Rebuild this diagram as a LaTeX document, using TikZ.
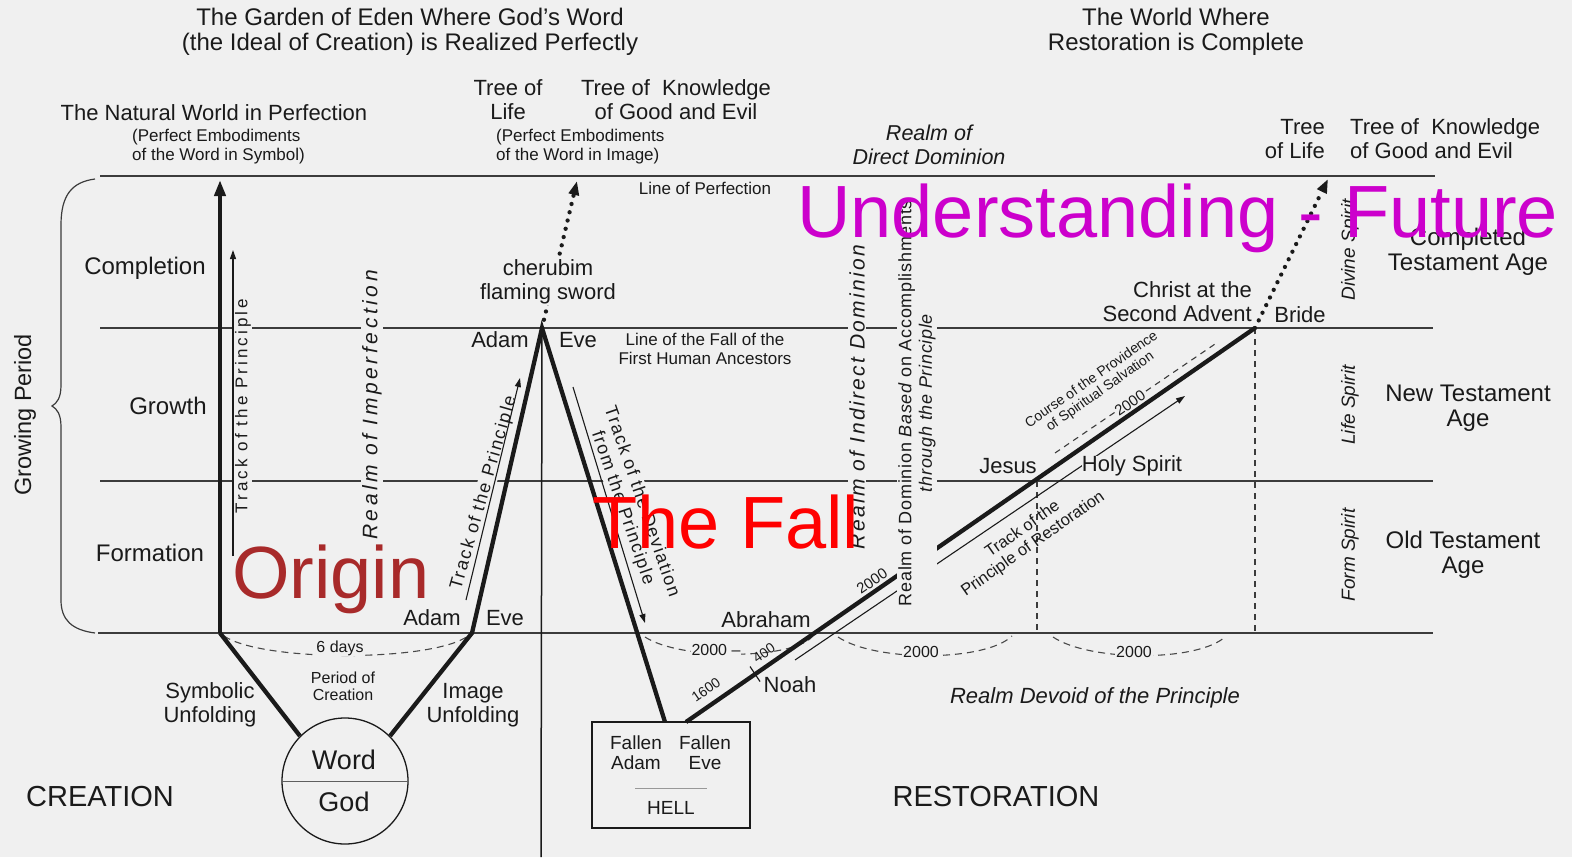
\documentclass[tikz,border=0pt]{standalone}
\usepackage{fontspec}
\setmainfont{Liberation Sans}
\usetikzlibrary{arrows.meta}
\definecolor{bg}{HTML}{F0F0F0}
\definecolor{ink}{HTML}{1A1A1A}
\definecolor{originred}{HTML}{A82A2A}
\definecolor{fallred}{HTML}{FF0000}
\definecolor{futuremag}{HTML}{CC00CC}
\newcommand\fsz[2]{\fontsize{#1}{#2}\selectfont}
\newcommand\lsp[1]{\addfontfeature{LetterSpace=#1}}
\begin{document}
\begin{tikzpicture}[x=1pt,y=-1pt,
  lab/.style={font=\fsz{22}{24}, text=ink, inner sep=1pt, align=center},
  labbig/.style={font=\fsz{24}{25.5}, text=ink, inner sep=1pt, align=center},
  labsm/.style={font=\fsz{17}{19}, text=ink, inner sep=1pt, align=center},
  labxs/.style={font=\fsz{15}{16}, text=ink, inner sep=1pt, align=center},
  mask/.style={fill=bg},
  level/.style={line width=2.4pt, draw=ink!85},
  heavy/.style={line width=4.3pt, draw=ink},
  thinarrow/.style={line width=1.1pt, draw=ink, -{Triangle[length=9pt,width=6pt]}},
  dasharc/.style={line width=1.1pt, draw=ink!80, dash pattern=on 7pt off 5pt},
  vdash/.style={line width=1.3pt, draw=ink!85, dash pattern=on 6pt off 5pt},
  dotline/.style={line width=4.3pt, draw=ink, dash pattern=on 0pt off 8.5pt, line cap=round},
  bigword/.style={font=\fsz{74}{80}, inner sep=0pt, anchor=base west}
]
\fill[bg] (0,0) rectangle (1572,857);
\useasboundingbox (0,0) rectangle (1572,857);

% ---------- coordinates
\coordinate (pL) at (100,176); \coordinate (pR) at (1435,176);
\coordinate (gL) at (100,328); \coordinate (gR) at (1433,328);
\coordinate (fL) at (100,481); \coordinate (fR) at (1433,481);
\coordinate (bL) at (98,633);  \coordinate (bR) at (1433,633);
\coordinate (sym0) at (220,633); \coordinate (symtop) at (220,180);
\coordinate (img0) at (472,633);
\coordinate (apex) at (542,328);
\coordinate (treeA) at (577,181);
\coordinate (vbot) at (541,857);
\coordinate (advent) at (1255,328);
\coordinate (treeB) at (1328,179);
\coordinate (jesus) at (1037,481);
\coordinate (jesusB) at (1037,633);
\coordinate (adventB) at (1255,633);

% ---------- level lines
\draw[level] (pL) -- (pR);
\draw[level] (gL) -- (gR);
\draw[level] (fL) -- (fR);
\draw[level] (bL) -- (bR);

% brace
\draw[line width=1.2pt, ink!85] (95,179) .. controls (72,182) and (61,195) .. (61,225) -- (61,385)
  .. controls (61,398) and (57,403) .. (52,406) .. controls (57,409) and (61,414) .. (61,427)
  -- (61,600) .. controls (61,620) and (72,630) .. (95,633);

% vertical lines
\draw[line width=1.5pt, ink] (apex) -- (vbot);
\draw[vdash] (jesus) -- (jesusB);
\draw[vdash] (advent) -- (adventB);

% dashed arcs
\draw[dasharc] (224,636) .. controls (262,662) and (432,662) .. (468,636);
\draw[dasharc] (645,637) .. controls (680,660) and (790,660) .. (812,637);
\draw[dasharc] (838,637) .. controls (875,662) and (985,662) .. (1012,636);
\draw[dasharc] (1053,637) .. controls (1090,662) and (1200,662) .. (1226,636);

% hell box
\node[draw=ink, line width=1.3pt, minimum width=158pt, minimum height=106pt, inner sep=0pt] (hell) at (671,775) {};
\coordinate (fallA) at (665,722);
\coordinate (restA) at (686,722);

% restoration lines
\draw[heavy] (restA) -- (advent);
\coordinate (trA) at (795,660); \coordinate (trB) at (1185,396);
\draw[thinarrow] (trA) -- (trB);
\coordinate (cpA) at (1055,453); \coordinate (cpB) at (1218,342);
\draw[vdash, line width=1.1pt] (cpA) -- (cpB);
\coordinate (tk1) at (750,666.5); \coordinate (tk2) at (760,681.5);
\draw[line width=1.2pt, ink] (tk1) -- (tk2);

% dotted arrows
\draw[dotline, -{Triangle[length=14pt,width=10pt]}] (apex) -- (treeA);
\draw[dotline, -{Triangle[length=14pt,width=10pt]}] (advent) -- (treeB);

% ---------- masked labels
\node[labsm, mask, rotate=90] (tpv) at (243,406) {\lsp{18}Track of the Principle};
\node[lab, mask, rotate=90, font=\fsz{21}{23}\itshape] (rimp) at (372,405) {\lsp{17}Realm of Imperfection};
\node[labsm, mask, rotate=74, font=\fsz{18}{20}] (tpa) at (484,493) {\lsp{10}Track of the Principle};
\node[labsm, mask, rotate=-71, font=\fsz{18}{20}] (tdev) at (632,505) {\lsp{8}Track of the Deviation\\\lsp{8}from the Principle};
\node[lab, mask, rotate=90, font=\fsz{21}{23}\itshape] (rind) at (857,397) {\lsp{11}Realm of Indirect Dominion};
\node[labsm, mask, rotate=90, font=\fsz{18}{20.5}] (rdom) at (917,403) {\lsp{4}Realm of Dominion {\itshape Based} on Accomplishments\\\itshape\lsp{4}through the Principle};
\node[lab, mask] (cher) at (548,282) {cherubim\\flaming sword};
\node[labxs, mask, font=\fsz{16}{17}] (sixd) at (340,648) {6 days};
\node[labxs, mask, font=\fsz{16}{17}] (y2a) at (716,650) {2000 --};
\node[labxs, mask, font=\fsz{16}{17}] (y2b) at (921,652) {2000};
\node[labxs, mask, font=\fsz{16}{17}] (y2c) at (1134,652) {2000};
\node[lab, mask, inner sep=0pt] (holy) at (1132,466) {Holy Spirit};
\node[labxs, mask, inner sep=0.5pt, rotate=34.7] (n2000b) at (1130,403) {2000};

% ---------- heavy creation lines
\node[circle, draw=ink, line width=1.3pt, minimum size=126pt, inner sep=0pt] (god) at (345,781) {};
\draw[line width=1pt, ink!70] (god.west) -- (god.east);
\draw[heavy] (god.135) -- (sym0);
\draw[heavy, -{Triangle[length=16pt,width=11pt]}] (sym0) -- (symtop);
\draw[heavy, line join=miter] (god.45) -- (img0) -- (apex) -- (fallA);

% thin track arrows
\coordinate (tv1) at (233,556); \coordinate (tv2) at (233,250);
\draw[thinarrow] (tv1) -- (tv2);
\coordinate (ta1) at (466,600); \coordinate (ta2) at (520,378);
\draw[thinarrow] (ta1) -- (ta2);
\coordinate (td1) at (573,387); \coordinate (td2) at (645,623);
\draw[thinarrow] (td1) -- (td2);

% ---------- labels
\node[labbig] (title1) at (410,32) {The Garden of Eden Where God's Word\\(the Ideal of Creation) is Realized Perfectly};
\node[labbig] (title2) at (1176,32) {The World Where\\Restoration is Complete};
\node[lab] (natw) at (214,113) {The Natural World in Perfection};
\node[labsm, anchor=west, align=left] (pe1) at (131,147) {(Perfect Embodiments\\of the Word in Symbol)};
\node[lab] (tol1) at (508,100) {Tree of\\Life};
\node[lab] (tok1) at (676,100) {Tree of\ \ Knowledge\\of Good and Evil};
\node[labsm, anchor=west, align=left] (pe2) at (495,147) {(Perfect Embodiments\\of the Word in Image)};
\node[labsm] (lop) at (705,188) {Line of Perfection};
\node[lab, font=\fsz{21.5}{24}\itshape] (rdd) at (929,145) {Realm of\\Direct Dominion};
\node[lab, anchor=east, align=right] (tol2) at (1326,139) {Tree\\of Life};
\node[lab, anchor=west, align=left] (tok2) at (1349,139) {Tree of\ \ Knowledge\\of Good and Evil};

\node[labbig] (compl) at (145,268) {Completion};
\node[labbig] (grow) at (168,406) {Growth};
\node[labbig] (form) at (150,553) {Formation};
\node[labbig, rotate=90, font=\fsz{23.5}{25}] (gp) at (25,415) {Growing Period};

\node[lab] (adam1) at (500,340) {Adam};
\node[lab] (eve1) at (578,340) {Eve};
\node[labsm] (lotf) at (705,349) {Line of the Fall of the\\First Human Ancestors};
\node[lab] (adam2) at (432,618) {Adam};
\node[lab] (eve2) at (505,618) {Eve};

\node[labxs, font=\fsz{16}{17}] (poc) at (343,686) {Period of\\Creation};
\node[lab] (symu) at (210,705) {Symbolic\\Unfolding};
\node[lab] (imgu) at (473,705) {Image\\Unfolding};
\node[lab, font=\fsz{29}{30}] (creat) at (100,797) {CREATION};
\node[lab, font=\fsz{27}{30}] (word) at (344,760) {Word};
\node[lab, font=\fsz{27}{30}] (godt) at (344,802) {God};

\node[lab, font=\fsz{19}{20}] (fadam) at (636,753) {Fallen\\Adam};
\node[lab, font=\fsz{19}{20}] (feve) at (705,753) {Fallen\\Eve};
\coordinate (hl1) at (635,788); \coordinate (hl2) at (707,788);
\draw[line width=0.8pt, ink!45] (hl1) -- (hl2);
\node[lab, font=\fsz{19}{20}] (hellt) at (671,808) {HELL};

\node[lab] (abr) at (766,620) {Abraham};
\node[lab] (noah) at (790,685) {Noah};
\node[labxs, font=\fsz{14}{15}, rotate=34.7] (n1600) at (706,690) {1600};
\node[labxs, font=\fsz{14}{15}, rotate=34.7] (n400) at (764,653) {400};
\node[labxs, rotate=34.7] (n2000a) at (872,581) {2000};
\node[lab, font=\fsz{22}{24}\itshape] (devoid) at (1095,698) {Realm Devoid of the Principle};
\node[lab, font=\fsz{29}{30}] (restor) at (996,797) {RESTORATION};

\node[lab] (jesust) at (1008,466) {Jesus};
\node[lab, anchor=east, align=right] (christ) at (1253,302) {Christ at the\\Second Advent};
\node[lab] (bride) at (1300,315) {Bride};
\node[labsm, rotate=35, font=\fsz{16.5}{18}] (tpr) at (1028,537) {Track of the\\Principle of Restoration};
\node[labxs, rotate=35, font=\fsz{14}{15}] (cps) at (1096,386) {Course of the Providence\\of Spiritual Salvation};

\node[lab, rotate=90, font=\fsz{19}{20}\itshape] (divs) at (1350,250) {Divine Spirit};
\node[lab, rotate=90, font=\fsz{19}{20}\itshape] (lifes) at (1350,405) {Life Spirit};
\node[lab, rotate=90, font=\fsz{19}{20}\itshape] (forms) at (1350,555) {Form Spirit};
\node[labbig] (cta) at (1468,252) {Completed\\Testament Age};
\node[labbig] (nta) at (1468,408) {New Testament\\Age};
\node[labbig] (ota) at (1463,555) {Old Testament\\Age};

% ---------- overlay words
\node[bigword, text=originred] (origin) at (232,598) {Origin};
\node[bigword, text=fallred] (thefall) at (592,548) {The Fall};
\node[bigword, text=futuremag] (future) at (797,237) {Understanding - Future};
\end{tikzpicture}
\end{document}
